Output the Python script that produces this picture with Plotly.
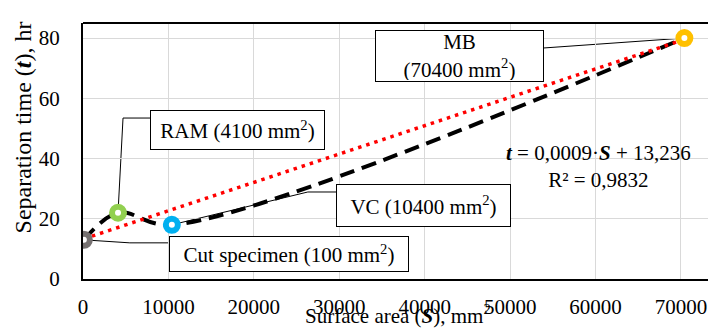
import numpy as np
import plotly.graph_objects as go

# ---- data ----
labels = ["Cut specimen", "RAM", "VC", "MB"]
surface_mm2 = [100, 4100, 10400, 70400]
time_hr = [13, 22, 18, 80]
ring_colors = ["#767171", "#92D050", "#00B0F0", "#FFC000"]
x_ticks = [0, 10000, 20000, 30000, 40000, 50000, 60000, 70000]
x_tick_text = ["0", "10000", "20000", "30000", "40000", "50000", "60000", "70000"]
y_ticks = [0, 20, 40, 60, 80]

FONT = "Liberation Serif"

slope, intercept = np.polyfit(surface_mm2, time_hr, 1)
trend_x = [min(surface_mm2), max(surface_mm2)]
trend_y = [slope * v + intercept for v in trend_x]

fig = go.Figure()
fig.add_trace(go.Scatter(x=surface_mm2, y=time_hr, mode="lines",
                         line=dict(color="black", width=4, dash="15px,8px",
                                   shape="spline", smoothing=1),
                         hoverinfo="skip", showlegend=False))
fig.add_trace(go.Scatter(x=trend_x, y=trend_y, mode="lines",
                         line=dict(color="#FF0000", width=3.5, dash="3.5px,5px"),
                         hoverinfo="skip", showlegend=False))
fig.add_trace(go.Scatter(x=surface_mm2, y=time_hr, mode="markers",
                         marker=dict(size=12, color="white",
                                     line=dict(color=ring_colors, width=6)),
                         showlegend=False))

# callout boxes: (text, ax, ay, width, height, leader path in px offsets)
callouts = [
    ("Cut specimen (100 mm<sup>2</sup>)", 205, 14, 236, 32, "M0,0 L46,-3 L86,-3"),
    ("RAM (4100 mm<sup>2</sup>)", 119.5, -82.7, 171, 36, "M0,0 L5,94.7 L33,94.7"),
    ("VC (10400 mm<sup>2</sup>)", 251.7, -19.3, 171, 39, "M0,0 L136,32.8 L165,32.8"),
    ("MB<br>(70400 mm<sup>2</sup>)", -224.9, 17.9, 165, 48, "M0,0 L-140.4,-9.9"),
]
for (txt, ax, ay, w, h, path), xv, yv in zip(callouts, surface_mm2, time_hr):
    fig.add_shape(type="path", xref="x", yref="y", xsizemode="pixel",
                  ysizemode="pixel", xanchor=xv, yanchor=yv, path=path,
                  line=dict(color="black", width=1), layer="below")
    fig.add_annotation(x=xv, y=yv, xref="x", yref="y", text=txt,
                       showarrow=True, arrowcolor="rgba(0,0,0,0)", arrowwidth=0.1,
                       ax=ax, ay=ay, width=w, height=h, borderpad=1,
                       bgcolor="white", bordercolor="black", borderwidth=1,
                       font=dict(family=FONT, size=21, color="black"))

# top frame line
fig.add_shape(type="line", xref="paper", yref="paper", x0=0, x1=1, y0=1, y1=1,
              line=dict(color="black", width=2))

fig.add_annotation(xref="paper", yref="paper", x=0.8136, y=0.439,
                   xanchor="center", yanchor="middle",
                   text="<b><i>t</i></b> = 0,0009·<b><i>S</i></b> + 13,236<br>R² = 0,9832",
                   showarrow=False, align="center",
                   font=dict(family=FONT, size=21, color="black"))
fig.add_annotation(xref="paper", yref="paper", x=-0.0948, y=0.592,
                   xanchor="center", yanchor="middle",
                   text="Separation time (<b><i>t</i></b>), hr", textangle=-90,
                   showarrow=False, font=dict(family=FONT, size=24, color="black"))
fig.add_annotation(xref="paper", yref="paper", x=0.497, y=-0.14,
                   xanchor="center", yanchor="middle",
                   text="Surface area (<b><i>S</i></b>), mm<sup>2</sup>",
                   showarrow=False, font=dict(family=FONT, size=21, color="black"))

# page body has an 8px margin, so the figure is sized to fit 716x329
fig.update_layout(
    width=708, height=321,
    margin=dict(l=75, r=0, t=15, b=50),
    paper_bgcolor="white", plot_bgcolor="white",
    font=dict(family=FONT, size=21, color="black"),
    xaxis=dict(range=[0, 74100], tickvals=x_ticks, ticktext=x_tick_text,
               showgrid=True, automargin=False,
               gridcolor="#D9D9D9", gridwidth=1.3, zeroline=False,
               showline=True, linecolor="black", linewidth=2,
               ticks="outside", ticklen=8, tickcolor="rgba(0,0,0,0)",
               tickfont=dict(family=FONT, size=21, color="black")),
    yaxis=dict(range=[0, 85], tickvals=y_ticks, showgrid=True, automargin=False,
               gridcolor="#D9D9D9", gridwidth=1.3, zeroline=False,
               showline=True, linecolor="black", linewidth=2,
               ticks="outside", ticklen=17, tickcolor="rgba(0,0,0,0)",
               tickfont=dict(family=FONT, size=21, color="black")),
)

fig.write_html("out.html")
